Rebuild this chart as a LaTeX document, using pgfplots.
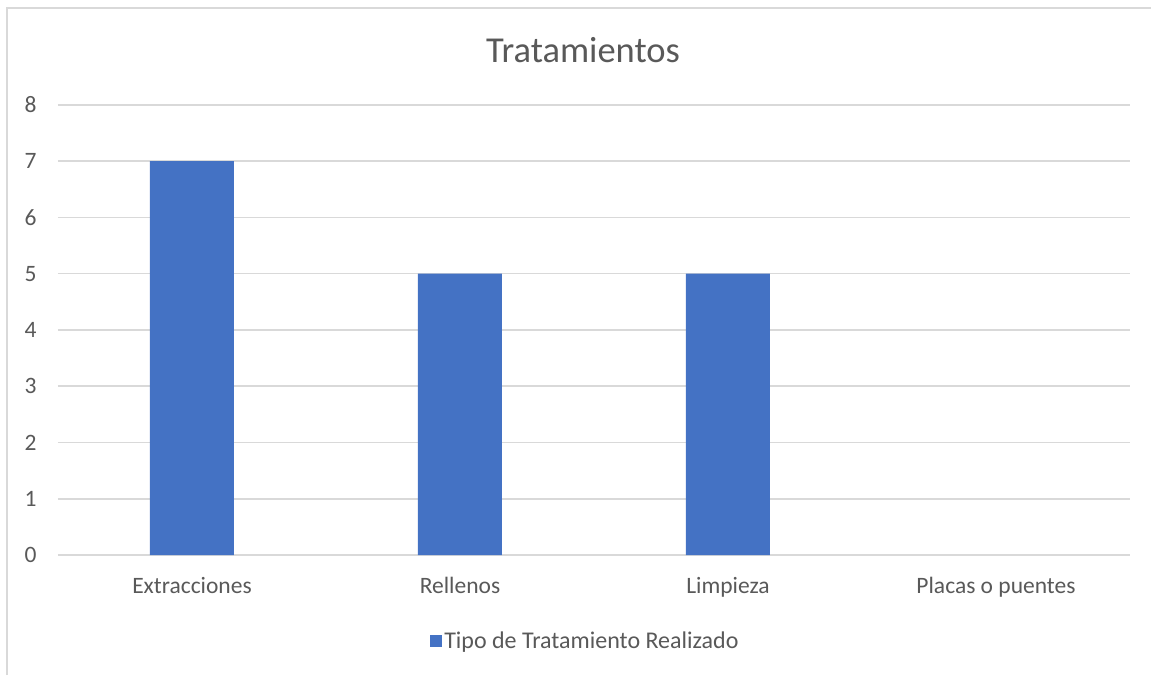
\documentclass[border=0pt]{standalone}
\usepackage{pgfplots}
\pgfplotsset{compat=1.18}
\usepackage{fontspec}
\setmainfont{Carlito}
\definecolor{txt}{HTML}{595959}
\definecolor{grd}{HTML}{D9D9D9}
\definecolor{bar}{HTML}{4472C4}
\begin{document}
\begin{tikzpicture}[x=1pt,y=1pt]
\path[use as bounding box] (0,0) rectangle (1151,675);
\draw[grd, line width=2pt] (7,0) -- (7,667) -- (1151,667);
\node[txt, font=\fontsize{36.5}{40}\selectfont] at (583,625) {Tratamientos};
\begin{axis}[
  at={(58pt,120pt)}, anchor=south west,
  scale only axis, width=1072pt, height=450pt,
  ymin=0, ymax=8, xmin=-0.5, xmax=3.5,
  ytick={0,1,...,8},
  xtick={0,1,2,3},
  xticklabels={Extracciones,Rellenos,Limpieza,Placas o puentes},
  axis line style={draw=none},
  ymajorgrids, grid style={grd, line width=1.5pt},
  major tick length=0pt,
  ticklabel style={txt, font=\fontsize{23.5}{28}\selectfont},
  yticklabel style={xshift=-18pt},
  xticklabel style={yshift=-19pt},
  /pgf/number format/assume math mode=true,
  legend style={draw=none, at={(0.492,-0.19)}, anchor=center, font=\fontsize{24}{28}\selectfont, text=txt},
  legend image code/.code={\fill[bar] (0pt,-6pt) rectangle (12pt,6pt);},
]
\draw[grd, line width=1.5pt] (axis cs:-0.5,0) -- (axis cs:3.5,0);
\addplot[ybar, bar width=84pt, fill=bar, draw=none] coordinates {(0,7) (1,5) (2,5)};
\addlegendentry{Tipo de Tratamiento Realizado}
\end{axis}
\end{tikzpicture}
\end{document}
